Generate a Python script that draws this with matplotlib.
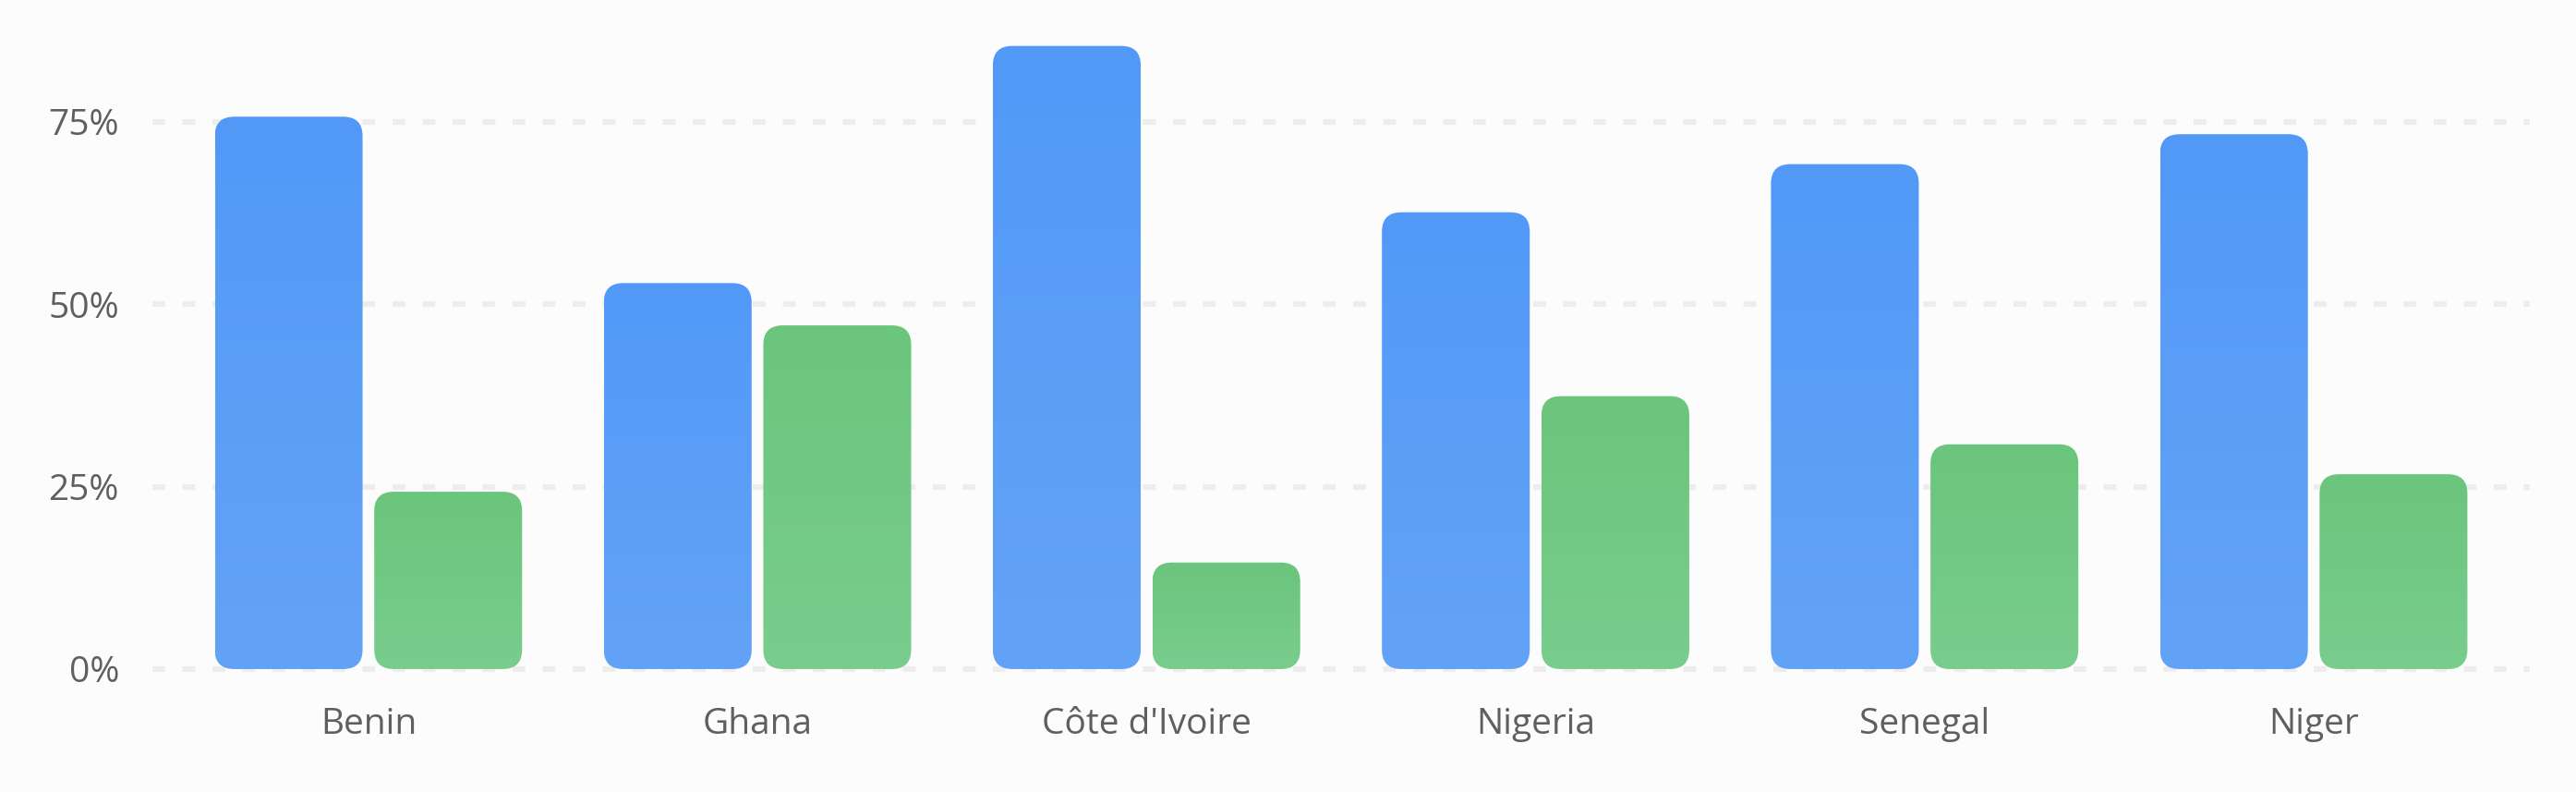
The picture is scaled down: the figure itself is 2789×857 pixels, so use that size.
import numpy as np
import matplotlib
matplotlib.use("Agg")
import matplotlib.pyplot as plt
from matplotlib.patches import FancyBboxPatch
from matplotlib.colors import LinearSegmentedColormap
import matplotlib.ticker as ticker

# ── data ─────────────────────────────────────────────────────────────────────
countries = ["Benin", "Ghana", "Côte d'Ivoire", "Nigeria", "Senegal", "Niger"]
series_a = [75.7, 52.9, 85.4, 62.6, 69.2, 73.3]   # blue
series_b = [24.3, 47.1, 14.6, 37.4, 30.8, 26.7]   # green
y_ticks = [0, 25, 50, 75]

# ── style ────────────────────────────────────────────────────────────────────
plt.rcParams["font.family"] = ["Open Sans", "DejaVu Sans"]
BG = "#fcfcfc"
TXT = "#5f5f5f"
GRID = "#ededed"
BLUE = ("#5299f8", "#63a3f6")    # top, bottom
GREEN = ("#6bc57c", "#79cd8d")

W, H, DPI = 2789, 857, 100
fig = plt.figure(figsize=(W / DPI, H / DPI), dpi=DPI, facecolor=BG)
ax = fig.add_axes([0.0592, 0.1368, 0.9228, 0.8476], facecolor=BG)

xlim = (-0.555, 5.555)
ylim = (-2, 90)
ax.set_xlim(*xlim)
ax.set_ylim(*ylim)

x = np.arange(len(countries))
bw, gap = 0.38, 0.03
off = bw / 2 + gap / 2

# px per data unit, for round corners
ax_w = 0.9228 * W
ax_h = 0.8476 * H
px_x = ax_w / (xlim[1] - xlim[0])
px_y = ax_h / (ylim[1] - ylim[0])
radius_px = 21
r_x = radius_px / px_x
aspect = px_x / px_y


def rounded_bars(xs, vals, colors):
    bars = ax.bar(xs, vals, width=bw, color="none", edgecolor="none")
    cmap = LinearSegmentedColormap.from_list("g", [colors[1], colors[0]])
    for rect in bars:
        x0, y0 = rect.get_x(), rect.get_y()
        w, h = rect.get_width(), rect.get_height()
        patch = FancyBboxPatch((x0, y0), w, h,
                               boxstyle=f"round,pad=0,rounding_size={r_x}",
                               mutation_aspect=aspect,
                               facecolor="none", edgecolor="none", zorder=3)
        ax.add_patch(patch)
        grad = np.linspace(0, 1, 256).reshape(-1, 1)
        im = ax.imshow(grad, cmap=cmap, origin="lower", aspect="auto",
                       extent=(x0, x0 + w, y0, y0 + h), zorder=3,
                       interpolation="bilinear")
        im.set_clip_path(patch)


rounded_bars(x - off, series_a, BLUE)
rounded_bars(x + off, series_b, GREEN)
ax.set_xlim(*xlim)
ax.set_ylim(*ylim)

# ── grid / axes ──────────────────────────────────────────────────────────────
for yv in y_ticks:
    ax.axhline(yv, color=GRID, linewidth=4.5, linestyle=(0, (2.2, 3.0)),
               dash_capstyle="butt", zorder=1)

ax.set_yticks(y_ticks)
ax.yaxis.set_major_formatter(ticker.FuncFormatter(lambda v, _: f"{v:.0f}%"))
ax.set_xticks(x)
ax.set_xticklabels(countries)
ax.tick_params(axis="both", length=0, colors=TXT, labelsize=28)
ax.tick_params(axis="y", pad=26)
ax.tick_params(axis="x", pad=18)
for s in ax.spines.values():
    s.set_visible(False)

fig.savefig("out.png", dpi=DPI, facecolor=BG)
